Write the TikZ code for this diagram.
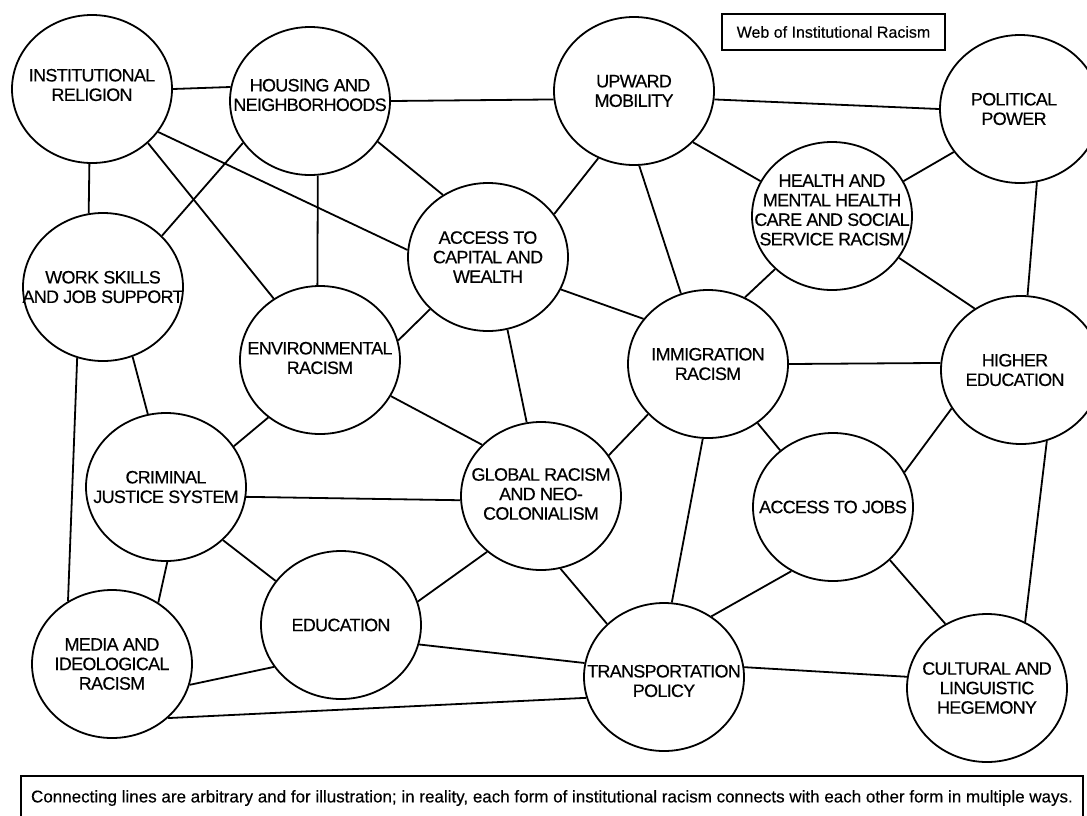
\documentclass[tikz,border=0pt]{standalone}
\usepackage{fontspec}
\setmainfont{Liberation Sans}
\newfontfamily\lblfont{Liberation Sans}[LetterSpace=-4, FakeBold=0.35]
\newfontfamily\notefont{Liberation Sans}[FakeBold=0.3]
\usetikzlibrary{shapes.geometric}
\begin{document}
\begin{tikzpicture}[x=1pt,y=-1pt,
  circ/.style={draw, line width=1.8pt, ellipse, minimum width=160pt, minimum height=148pt, inner sep=0pt},
  lbl/.style={align=center, font=\lblfont\fontsize{18}{19.5}\selectfont, inner sep=0pt},
  link/.style={line width=1.8pt}]
\useasboundingbox (0,0) rectangle (1087,815);
% circles
\node[circ] (rel) at (92,89) {};
\node[circ] (hou) at (310,101) {};
\node[circ] (upw) at (634,91) {};
\node[circ] (pol) at (1020,109) {};
\node[circ] (hlt) at (832,216) {};
\node[circ] (acc) at (488,257) {};
\node[circ] (wrk) at (103,287) {};
\node[circ] (env) at (320,360) {};
\node[circ] (imm) at (708,364) {};
\node[circ] (hed) at (1021,370) {};
\node[circ] (crm) at (166,487) {};
\node[circ] (glb) at (541,496) {};
\node[circ] (job) at (833,507) {};
\node[circ] (edu) at (341,625) {};
\node[circ] (med) at (112,664) {};
\node[circ] (trn) at (664,677) {};
\node[circ] (cul) at (987,688) {};
% labels
\node[lbl] (rel-t) at ([yshift=4pt]rel.center) {INSTITUTIONAL\\RELIGION};
\node[lbl] (hou-t) at ([yshift=6pt]hou.center) {HOUSING AND\\NEIGHBORHOODS};
\node[lbl] (upw-t) at (upw.center) {UPWARD\\MOBILITY};
\node[lbl] (pol-t) at ([xshift=-6pt]pol.center) {POLITICAL\\POWER};
\node[lbl] (hlt-t) at ([yshift=6pt]hlt.center) {HEALTH AND\\MENTAL HEALTH\\CARE AND SOCIAL\\SERVICE RACISM};
\node[lbl] (acc-t) at (acc.center) {ACCESS TO\\CAPITAL AND\\WEALTH};
\node[lbl] (wrk-t) at (wrk.center) {WORK SKILLS\\AND JOB SUPPORT};
\node[lbl] (env-t) at ([yshift=2pt]env.center) {ENVIRONMENTAL\\RACISM};
\node[lbl] (imm-t) at (imm.center) {IMMIGRATION\\RACISM};
\node[lbl] (hed-t) at ([xshift=-6pt]hed.center) {HIGHER\\EDUCATION};
\node[lbl] (crm-t) at (crm.center) {CRIMINAL\\JUSTICE SYSTEM};
\node[lbl] (glb-t) at ([yshift=2pt]glb.center) {GLOBAL RACISM\\AND NEO-\\COLONIALISM};
\node[lbl] (job-t) at (job.center) {ACCESS TO JOBS};
\node[lbl] (edu-t) at (edu.center) {EDUCATION};
\node[lbl] (med-t) at (med.center) {MEDIA AND\\IDEOLOGICAL\\RACISM};
\node[lbl] (trn-t) at ([yshift=-4pt]trn.center) {TRANSPORTATION\\POLICY};
\node[lbl] (cul-t) at (cul.center) {CULTURAL AND\\LINGUISTIC\\HEGEMONY};
% connectors
\draw[link] (rel.0) -- (hou.170);
\draw[link] (rel.268) -- (wrk.101);
\draw[link] (rel.316) -- (env.127);
\draw[link] (rel.327) -- (acc.175);
\draw[link] (hou.212) -- (wrk.41);
\draw[link] (hou.276) -- (env.92);
\draw[link] (hou.0) -- (upw.186);
\draw[link] (hou.329) -- (acc.126);
\draw[link] (upw.354) -- (pol.180);
\draw[link] (upw.242) -- (acc.33);
\draw[link] (upw.274) -- (imm.111);
\draw[link] (upw.319) -- (hlt.154);
\draw[link] (hlt.26) -- (pol.213);
\draw[link] (pol.283) -- (hed.85);
\draw[link] (hlt.328) -- (hed.127);
\draw[link] (hlt.223) -- (imm.61);
\draw[link] (acc.336) -- (imm.145);
\draw[link] (acc.222) -- (env.14);
\draw[link] (acc.285) -- (glb.101);
\draw[link] (env.333) -- (glb.139);
\draw[link] (env.228) -- (crm.31);
\draw[link] (wrk.293) -- (crm.104);
\draw[link] (wrk.250) -- (med.125);
\draw[link] (crm.353) -- (glb.183);
\draw[link] (crm.271) -- (med.53);
\draw[link] (crm.317) -- (edu.146);
\draw[link] (med.345) -- (edu.212);
\draw[link] (med.316) -- (trn.195);
\draw[link] (edu.346) -- (trn.170);
\draw[link] (edu.17) -- (glb.226);
\draw[link] (glb.285) -- (trn.137);
\draw[link] (imm.220) -- (glb.31);
\draw[link] (imm.266) -- (trn.84);
\draw[link] (imm.0) -- (hed.175);
\draw[link] (imm.310) -- (job.133);
\draw[link] (job.26) -- (hed.209);
\draw[link] (job.237) -- (trn.52);
\draw[link] (job.317) -- (cul.123);
\draw[link] (hed.290) -- (cul.60);
\draw[link] (trn.7) -- (cul.172);
% title and note
\node[draw, line width=1.6pt, minimum width=223pt, minimum height=36pt, inner sep=0pt,
  font=\notefont\fontsize{16}{19}\selectfont] (title) at (833.5,32) {Web of Institutional Racism};
\node[draw, line width=1.6pt, minimum width=1062pt, minimum height=44pt, inner sep=0pt,
  font=\notefont\fontsize{17}{19}\selectfont] (note) at (552,798) {Connecting lines are arbitrary and for illustration; in reality, each form of institutional racism connects with each other form in multiple ways.};
\end{tikzpicture}
\end{document}
